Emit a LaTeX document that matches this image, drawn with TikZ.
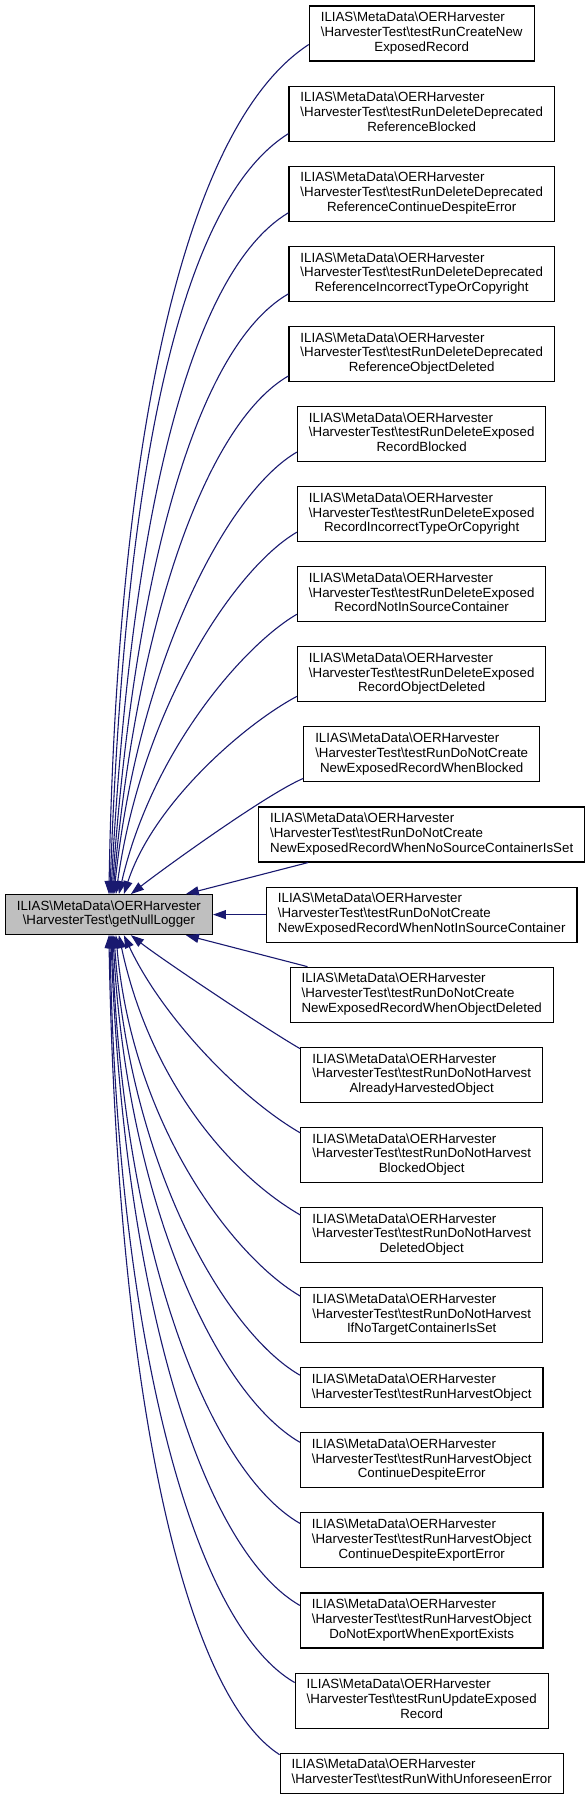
\documentclass[tikz,border=0pt]{standalone}
\usepackage{fontspec}
\setmainfont{Liberation Sans}
\usetikzlibrary{positioning,arrows.meta}
\definecolor{edgeblue}{HTML}{191970}
\definecolor{nodegray}{HTML}{BFBFBF}
\newcommand{\oerns}{ILIAS\textbackslash MetaData\textbackslash OERHarvester}
\newcommand{\testlong}[2]{\begin{tabular}{@{}l@{}}\oerns\\\textbackslash HarvesterTest\textbackslash #1\\\multicolumn{1}{@{}c@{}}{#2}\end{tabular}}
\newcommand{\testshort}[1]{\begin{tabular}{@{}l@{}}\oerns\\\textbackslash HarvesterTest\textbackslash #1\end{tabular}}
\tikzstyle{fn}    = [draw=black, line width=1.1pt, inner xsep=11.5pt, inner ysep=0pt, font=\fontsize{13.3}{14.7}\selectfont]
\tikzstyle{test3} = [fn, minimum height=55pt]
\tikzstyle{test2} = [fn, minimum height=40pt]
\tikzstyle{arrow} = [edgeblue, line width=1.1pt, -{Triangle[length=13pt,width=9pt]}]
\begin{document}
\begin{tikzpicture}[x=1pt, y=1pt, node distance=24pt]
		\useasboundingbox (0,0) rectangle (587,-1799);
		% callers
		\node[test3] (b1) at (421.7,-33.5) {\testlong{testRunCreateNew}{ExposedRecord}};
		\node[test3, below=of b1] (b2) {\testlong{testRunDeleteDeprecated}{ReferenceBlocked}};
		\node[test3, below=of b2] (b3) {\testlong{testRunDeleteDeprecated}{ReferenceContinueDespiteError}};
		\node[test3, below=of b3] (b4) {\testlong{testRunDeleteDeprecated}{ReferenceIncorrectTypeOrCopyright}};
		\node[test3, below=of b4] (b5) {\testlong{testRunDeleteDeprecated}{ReferenceObjectDeleted}};
		\node[test3, below=of b5] (b6) {\testlong{testRunDeleteExposed}{RecordBlocked}};
		\node[test3, below=of b6] (b7) {\testlong{testRunDeleteExposed}{RecordIncorrectTypeOrCopyright}};
		\node[test3, below=of b7] (b8) {\testlong{testRunDeleteExposed}{RecordNotInSourceContainer}};
		\node[test3, below=of b8] (b9) {\testlong{testRunDeleteExposed}{RecordObjectDeleted}};
		\node[test3, below=of b9] (b10) {\testlong{testRunDoNotCreate}{NewExposedRecordWhenBlocked}};
		\node[test3, below=of b10] (b11) {\testlong{testRunDoNotCreate}{NewExposedRecordWhenNoSourceContainerIsSet}};
		\node[test3, below=of b11] (b12) {\testlong{testRunDoNotCreate}{NewExposedRecordWhenNotInSourceContainer}};
		\node[test3, below=of b12] (b13) {\testlong{testRunDoNotCreate}{NewExposedRecordWhenObjectDeleted}};
		\node[test3, below=of b13] (b14) {\testlong{testRunDoNotHarvest}{AlreadyHarvestedObject}};
		\node[test3, below=of b14] (b15) {\testlong{testRunDoNotHarvest}{BlockedObject}};
		\node[test3, below=of b15] (b16) {\testlong{testRunDoNotHarvest}{DeletedObject}};
		\node[test3, below=of b16] (b17) {\testlong{testRunDoNotHarvest}{IfNoTargetContainerIsSet}};
		\node[test2, below=of b17] (b18) {\testshort{testRunHarvestObject}};
		\node[test3, below=of b18] (b19) {\testlong{testRunHarvestObject}{ContinueDespiteError}};
		\node[test3, below=of b19] (b20) {\testlong{testRunHarvestObject}{ContinueDespiteExportError}};
		\node[test3, below=of b20] (b21) {\testlong{testRunHarvestObject}{DoNotExportWhenExportExists}};
		\node[test3, below=of b21] (b22) {\testlong{testRunUpdateExposed}{Record}};
		\node[test2, below=of b22] (b23) {\testshort{testRunWithUnforeseenError}};
		% called function
		\node[test2, fill=nodegray] (main) at (108.9,0 |- b12) {\begin{tabular}{@{}c@{}}\oerns\\\textbackslash HarvesterTest\textbackslash getNullLogger\end{tabular}};
		% calls from above
		\foreach \i/\dy/\a/\la/\b/\lb/\tx in {1/17pt/213/150/89/450/0pt, 2/8pt/212/135/88/400/1pt, 3/9pt/211/120/87/360/2pt,
				4/8pt/210/108/86/318/3pt, 5/6pt/210/95/85/275/4pt, 6/10pt/210/80/84/234/5pt, 7/10pt/210/70/82/190/7pt,
				8/8pt/210/60/77/148/10pt, 9/6pt/208/60/72/95/15pt, 10/4pt/203/40/38/40/22pt}
			\draw[arrow] ([yshift=\dy]b\i.south west) .. controls +(\a:\la) and +(\b:\lb) .. ([xshift=\tx]main.north);
		% calls from below
		\foreach \i/\dy/\a/\la/\b/\lb/\tx in {14/-2pt/150/40/-38/40/22pt, 15/-6pt/150/70/-65/90/15pt, 16/-8pt/150/80/-78/150/10pt,
				17/-9pt/150/75/-85/193/7pt, 18/-8pt/150/85/-86/235/5pt, 19/-10pt/150/95/-87/270/4pt, 20/-11pt/150/106/-88/313/3pt,
				21/-13pt/150/115/-88/357/2pt, 22/-10pt/150/120/-89/397/1pt, 23/-2pt/147/120/-89/436/0pt}
			\draw[arrow] ([yshift=\dy]b\i.north west) .. controls +(\a:\la) and +(\b:\lb) .. ([xshift=\tx]main.south);
		% nearly level calls
		\draw[arrow] ([xshift=50pt]b11.south west) -- ([xshift=77pt]main.north);
		\draw[arrow] (b12.west) -- (main.east);
		\draw[arrow] ([xshift=18pt]b13.north west) -- ([xshift=77pt]main.south);
	\end{tikzpicture}
\end{document}
